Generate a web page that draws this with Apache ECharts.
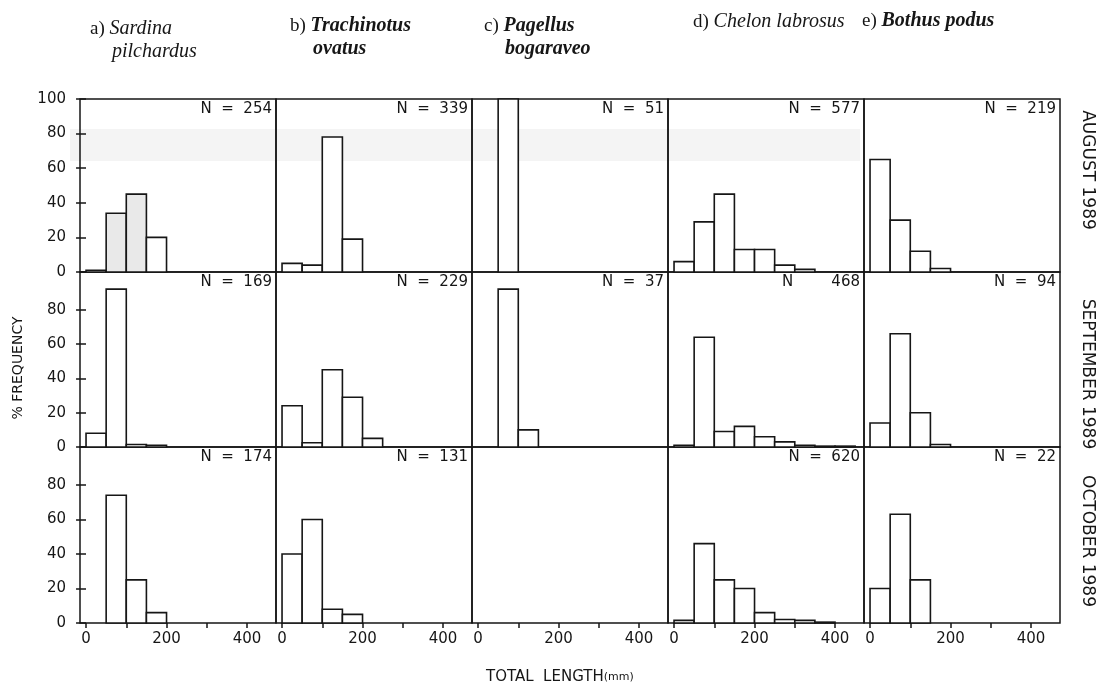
<!DOCTYPE html>
<html>
<head>
<meta charset="utf-8">
<title>length frequency</title>
<script type="text/javascript" src="https://cdn.jsdelivr.net/npm/echarts@6/dist/echarts.min.js"></script>
<style>
	html, body { margin: 0; background: #fff; }
	#container { width: 1102px; height: 685px; }
</style>
</head>
<body>
	<div id="container"></div>
	<script type="text/javascript">
	// length classes of 50 mm, the first one starts at 0 mm
	var binWidth = 50;

	var months = ['AUGUST 1989', 'SEPTEMBER 1989', 'OCTOBER 1989'];
	var letters = ['a)', 'b)', 'c)', 'd)', 'e)'];
	var namesLine1 = ['Sardina', 'Trachinotus', 'Pagellus', 'Chelon labrosus', 'Bothus podus'];
	var namesLine2 = ['pilchardus', 'ovatus', 'bogaraveo', '', ''];

	// % frequency per length class, one array per species and month
	var sardinaAug = [1, 34, 45, 20];
	var trachinotusAug = [5, 4, 78, 19];
	var pagellusAug = [0, 100];
	var chelonAug = [6, 29, 45, 13, 13, 4, 1.5];
	var bothusAug = [65, 30, 12, 2];

	var sardinaSep = [8, 92, 1.5, 1];
	var trachinotusSep = [24, 2.5, 45, 29, 5];
	var pagellusSep = [0, 92, 10];
	var chelonSep = [1, 64, 9, 12, 6, 3, 1, 0.5, 0.5];
	var bothusSep = [14, 66, 20, 1.5];

	var sardinaOct = [0, 74, 25, 6];
	var trachinotusOct = [40, 60, 8, 5];
	var pagellusOct = [];
	var chelonOct = [1.5, 46, 25, 20, 6, 2, 1.5, 0.5];
	var bothusOct = [20, 63, 25];

	var nAug = ['N  =  254', 'N  =  339', 'N  =  51', 'N  =  577', 'N  =  219'];
	var nSep = ['N  =  169', 'N  =  229', 'N  =  37', 'N        468', 'N  =  94'];
	var nOct = ['N  =  174', 'N  =  131', '', 'N  =  620', 'N  =  22'];

	var xTicks = [0, 100, 200, 300, 400];
	var xTickLabels = [0, 200, 400];
	var yTicksTop = [0, 20, 40, 60, 80, 100];
	var yTicksOther = [0, 20, 40, 60, 80];

	var panels = [
		[sardinaAug, trachinotusAug, pagellusAug, chelonAug, bothusAug],
		[sardinaSep, trachinotusSep, pagellusSep, chelonSep, bothusSep],
		[sardinaOct, trachinotusOct, pagellusOct, chelonOct, bothusOct]
	];
	var nLabels = [nAug, nSep, nOct];

	var dom = document.getElementById("container");
	var myChart = echarts.init(dom, null, { renderer: 'canvas' });

	var INK = '#161616';
	var SANS = '"DejaVu Sans", sans-serif';
	var SERIF = '"Liberation Serif", serif';
	var colLeft = 80, colW = 196;
	var rowTop = [99, 272, 447];
	var rowH = [173, 175, 176];
	var rowMax = [100, 102, 102];
	var monthCenter = [170, 374, 541];
	var nameWeight = ['normal', 'bold', 'bold', 'normal', 'bold'];
	var titlePos = [[90, 19], [290, 16], [484, 16], [693, 12], [862, 11]];
	var indent = [22, 23, 21];

	function histItem(params, api) {
		var p0 = api.coord([api.value(0), 0]);
		var p1 = api.coord([api.value(1), api.value(2)]);
		return {
			type: 'rect',
			shape: { x: p0[0], y: p1[1], width: p1[0] - p0[0], height: p0[1] - p1[1] },
			style: { fill: api.value(3) ? '#e9e9e9' : '#fff', stroke: INK, lineWidth: 1.6 }
		};
	}

	var grids = [], xAxes = [], yAxes = [], series = [], graphics = [], titles = [];

	// faint grey band left by the scan
	graphics.push({ type: 'rect', z: -5, shape: { x: 70, y: 129, width: 790, height: 32 }, style: { fill: '#f4f4f4' } });

	for (var r = 0; r < 3; r++) {
		for (var c = 0; c < 5; c++) {
			var g = r * 5 + c;
			grids.push({
				left: colLeft + c * colW, top: rowTop[r], width: colW, height: rowH[r],
				show: true, borderColor: INK, borderWidth: 1.5, backgroundColor: 'transparent'
			});
			xAxes.push({
				gridIndex: g, type: 'value', min: -15, max: 472,
				axisLine: { show: false }, splitLine: { show: false },
				axisTick: { show: r == 2, customValues: xTicks, length: 5, lineStyle: { color: INK, width: 1.5 } },
				axisLabel: { show: r == 2, customValues: xTickLabels, color: INK, fontSize: 15, fontFamily: SANS, margin: 9 }
			});
			yAxes.push({
				gridIndex: g, type: 'value', min: 0, max: rowMax[r],
				axisLine: { show: false }, splitLine: { show: false },
				axisTick: { show: c == 0, customValues: r == 0 ? yTicksTop : yTicksOther, length: 10, lineStyle: { color: INK, width: 1.5 } },
				axisLabel: { show: c == 0, customValues: r == 0 ? yTicksTop : yTicksOther, color: INK, fontSize: 15, fontFamily: SANS, margin: 14, padding: [0, 0, 9, 0] }
			});
			var vals = panels[r][c];
			var data = [];
			for (var i = 0; i < vals.length; i++) {
				if (vals[i] > 0) {
					var shade = (r == 0 && c == 0 && (i == 1 || i == 2)) ? 1 : 0;
					data.push([i * binWidth, (i + 1) * binWidth, vals[i], shade]);
				}
			}
			series.push({ type: 'custom', xAxisIndex: g, yAxisIndex: g, silent: true, renderItem: histItem, data: data });
			if (nLabels[r][c]) {
				graphics.push({
					type: 'text', x: colLeft + (c + 1) * colW - 4, y: rowTop[r] + 3,
					style: { text: nLabels[r][c], font: '15px ' + SANS, fill: INK, align: 'right', verticalAlign: 'top' }
				});
			}
		}
		graphics.push({
			type: 'text', x: 1087, y: monthCenter[r], rotation: -Math.PI / 2,
			style: { text: months[r], font: '17px ' + SANS, fill: INK, align: 'center', verticalAlign: 'middle' }
		});
	}

	for (var s = 0; s < 5; s++) {
		titles.push({
			left: titlePos[s][0], top: titlePos[s][1], padding: 0,
			text: '{l|' + letters[s] + ' }{n|' + namesLine1[s] + '}',
			textStyle: { rich: {
				l: { fontFamily: SERIF, fontSize: 19, fontWeight: 'normal', color: INK },
				n: { fontFamily: SERIF, fontSize: 20, fontStyle: 'italic', fontWeight: nameWeight[s], color: INK }
			} }
		});
		if (namesLine2[s]) {
			titles.push({
				left: titlePos[s][0] + indent[s], top: titlePos[s][1] + 23, padding: 0,
				text: namesLine2[s],
				textStyle: { fontFamily: SERIF, fontSize: 20, fontStyle: 'italic', fontWeight: nameWeight[s], color: INK }
			});
		}
	}

	graphics.push({
		type: 'text', x: 18, y: 368, rotation: Math.PI / 2,
		style: { text: '% FREQUENCY', font: '14px ' + SANS, fill: INK, align: 'center', verticalAlign: 'middle' }
	});
	graphics.push({
		type: 'text', x: 486, y: 677,
		style: {
			text: '{a|TOTAL  LENGTH}{b|(mm)}', fill: INK, verticalAlign: 'middle',
			rich: { a: { font: '15px ' + SANS, fill: INK }, b: { font: '11px ' + SANS, fill: INK } }
		}
	});

	var option = {
		animation: false,
		backgroundColor: '#fff',
		title: titles,
		grid: grids,
		xAxis: xAxes,
		yAxis: yAxes,
		series: series,
		graphic: graphics
	};
	myChart.setOption(option, true);
	</script>
</body>
</html>
